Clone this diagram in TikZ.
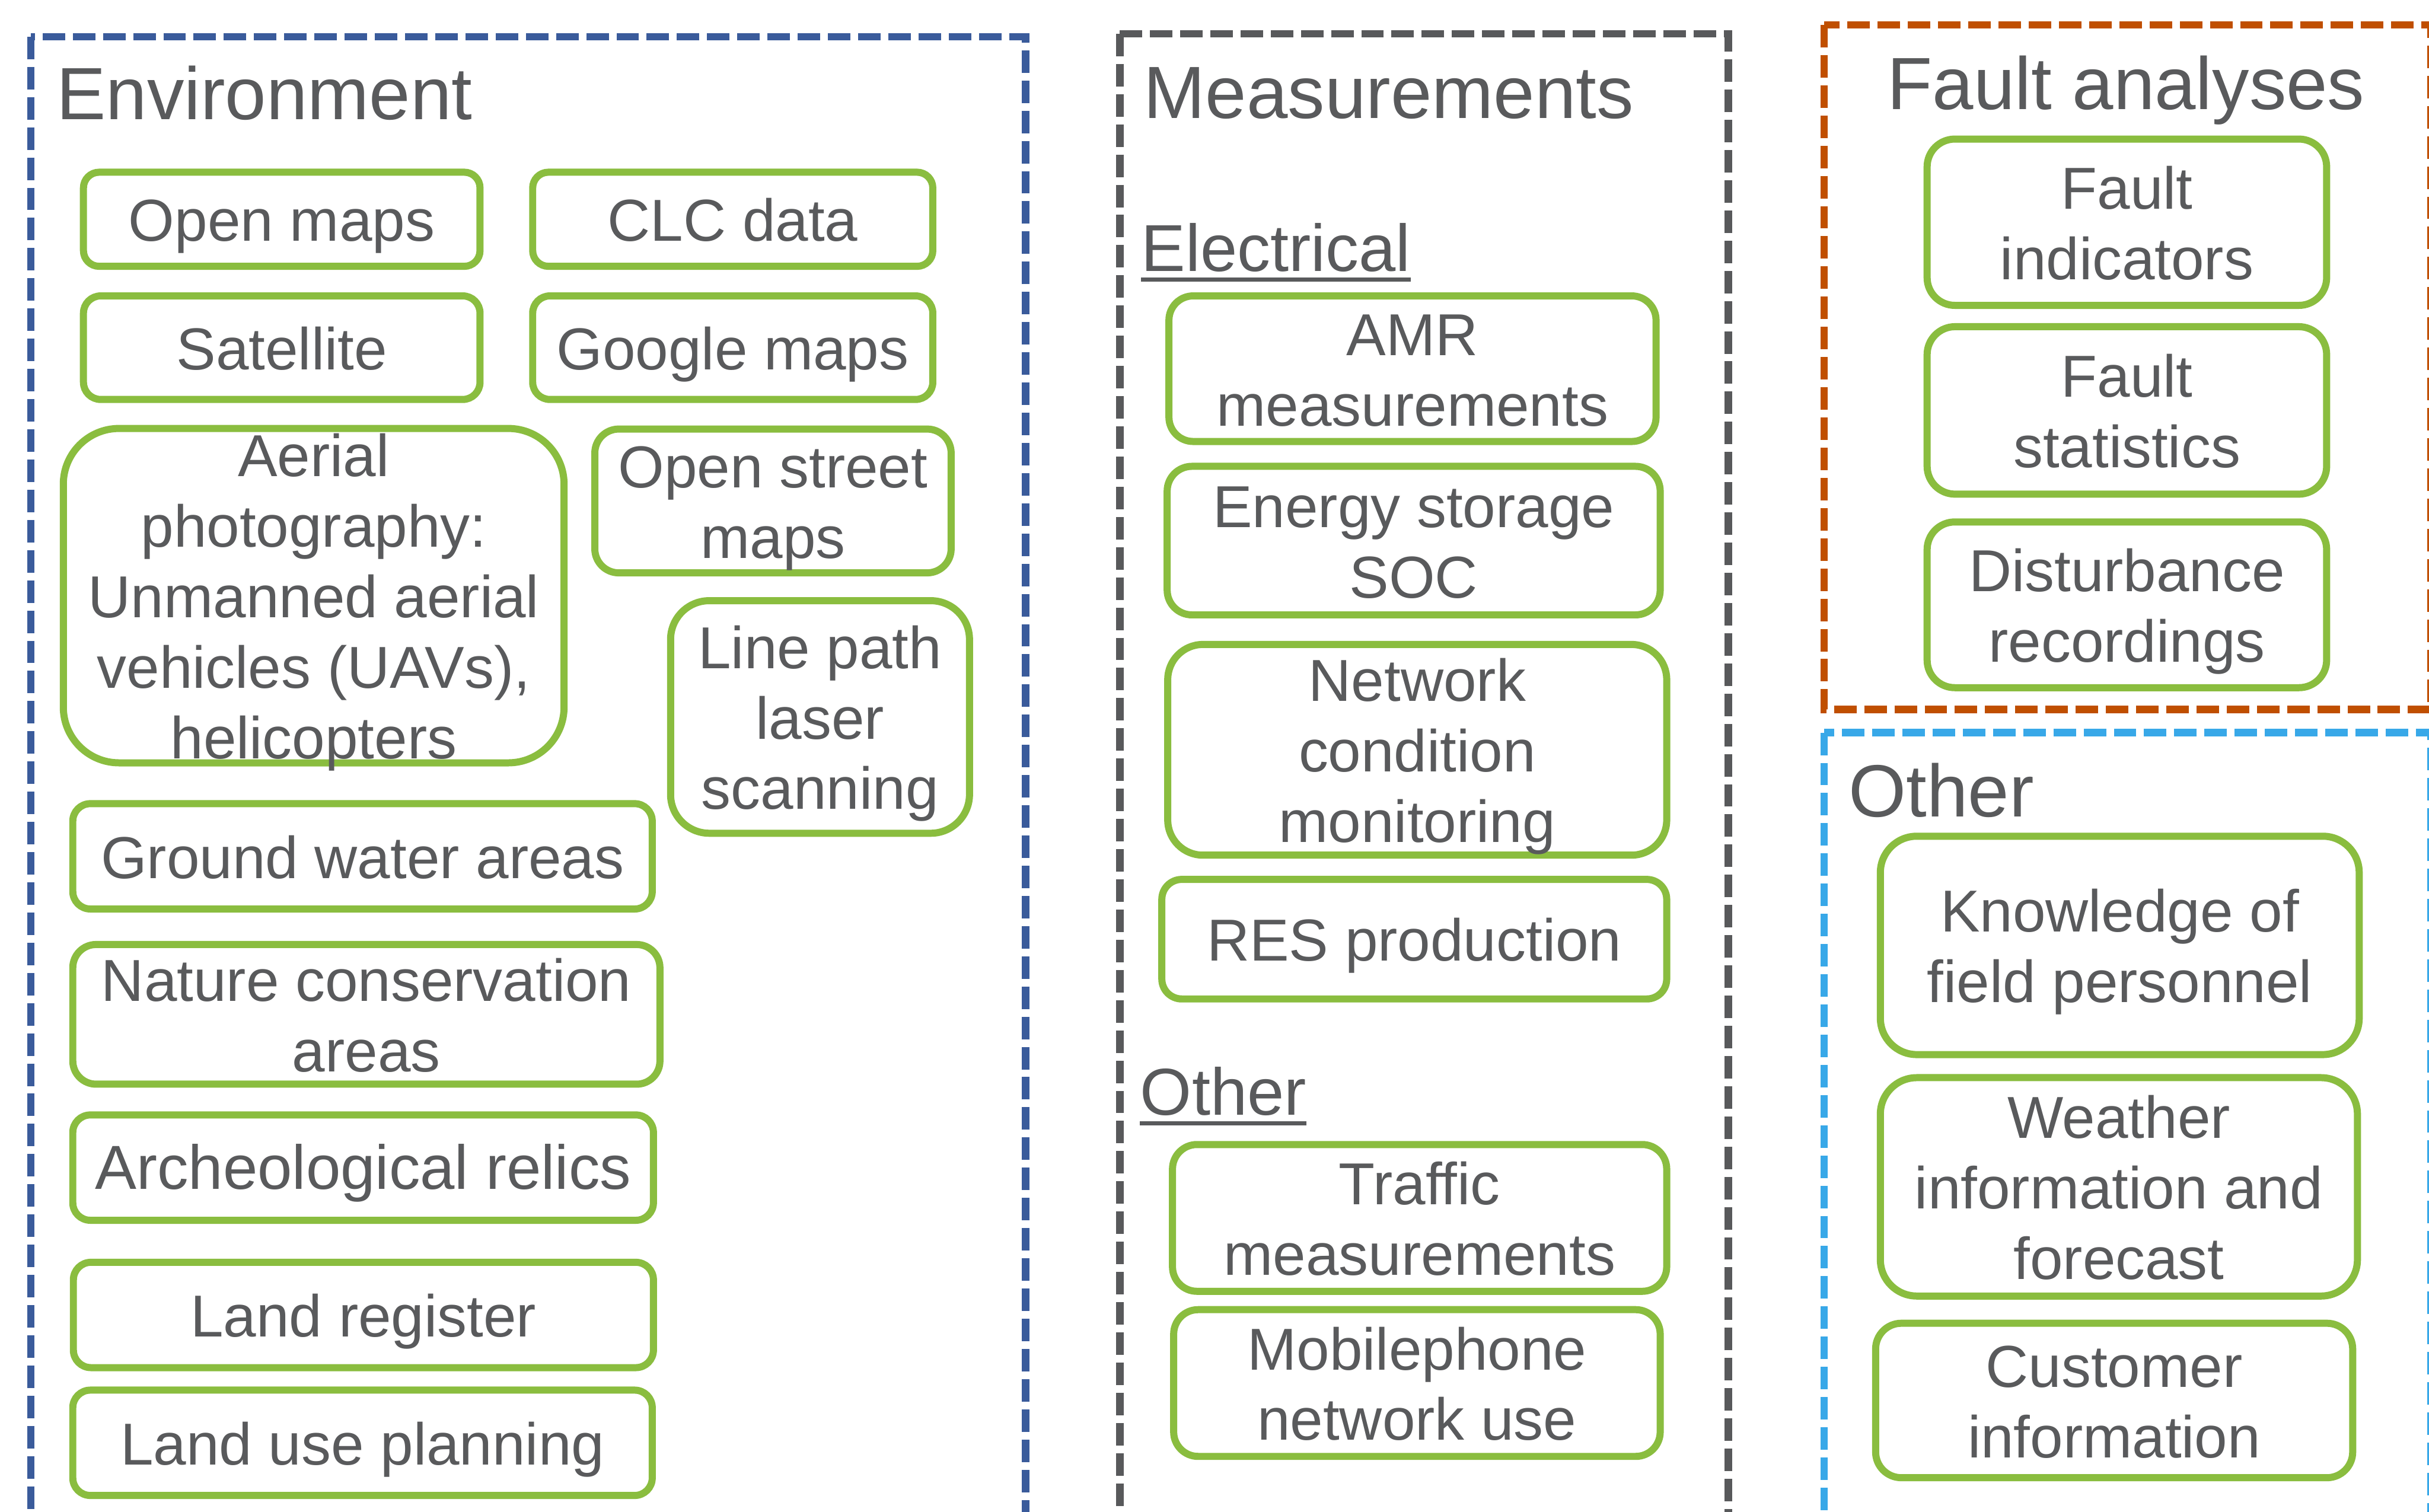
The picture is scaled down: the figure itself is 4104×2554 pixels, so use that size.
\documentclass[tikz,border=0pt]{standalone}
\usepackage{fontspec}
\setmainfont{Liberation Sans}
\definecolor{textgray}{RGB}{89,90,92}
\definecolor{boxgreen}{RGB}{138,189,63}
\definecolor{envblue}{RGB}{58,91,155}
\definecolor{measgray}{RGB}{88,89,91}
\definecolor{faultorange}{RGB}{192,79,0}
\definecolor{otherblue}{RGB}{56,168,232}
\newcommand{\bstrut}{\vrule height 0.95cm depth 0.21cm width 0pt}
\newcommand{\ibox}[6]{%
  \pgfmathsetmacro{\myw}{(#4-#2)*0.01}%
  \pgfmathsetmacro{\myh}{(#5-#3)*0.01}%
  \pgfmathsetmacro{\myr}{min(\myw,\myh)/6}%
  \node[gbox, minimum width=\myw cm, minimum height=\myh cm, rounded corners=\myr cm] (#1) at ({(#2+#4)/2},{(#3+#5)/2}) {};
  \node[btext] (#1-t) at (#1.center) {\bstrut #6\bstrut};
}
\tikzset{
  gbox/.style={draw=boxgreen, line width=0.12cm, inner sep=0pt, outer sep=0pt, fill=white},
  btext/.style={text=textgray, align=center, inner sep=0pt, font=\fontsize{28.45}{33.86}\selectfont},
  ttl/.style={text=textgray, inner sep=0pt, anchor=base west, font=\fontsize{35.57}{42}\selectfont},
  subttl/.style={text=textgray, inner sep=0pt, anchor=base west, font=\fontsize{31.87}{38}\selectfont},
  frame/.style={line width=0.125cm, dash pattern=on 0.38cm off 0.13cm},
  uline/.style={draw=textgray, line width=0.07cm},
}
\begin{document}
\begin{tikzpicture}[x=0.01cm, y=-0.01cm]
\useasboundingbox (0,0) rectangle (4104,2554);
\fill[white] (0,0) rectangle (4104,2554);

% frames
\draw[frame, envblue] (52,62) rectangle (1733,2620);
\draw[frame, measgray] (1892,57) rectangle (2920,2620);
\draw[frame, faultorange] (3082,42) rectangle (4107,1199);
\draw[frame, otherblue] (3082,1238) rectangle (4107,2620);

% titles
\node[ttl] (t-env) at (95,202) {Environment};
\node[ttl] (t-meas) at (1932,200) {Measurements};
\node[ttl] (t-fault) at (3188,185) {Fault analyses};
\node[ttl] (t-other) at (3123,1380) {Other};
\node[subttl] (s-elec) at (1928,458) {Electrical};
\node[subttl] (s-other) at (1926,1884) {Other};
\draw[uline] ([yshift=-0.14cm]s-elec.base west) -- ([yshift=-0.14cm]s-elec.base east);
\draw[uline] ([yshift=-0.14cm]s-other.base west) -- ([yshift=-0.14cm]s-other.base east);

% Environment
\ibox{openmaps}{141}{291}{811}{450}{Open maps}
\ibox{clc}{900}{291}{1576}{450}{CLC data}
\ibox{satellite}{141}{500}{811}{675}{Satellite}
\ibox{google}{900}{500}{1576}{675}{Google maps}
\ibox{aerial}{107}{724}{953}{1289}{Aerial\\photography:\\Unmanned aerial\\vehicles (UAVs),\\helicopters}
\ibox{osm}{1005}{725}{1607}{968}{Open street\\maps}
\ibox{laser}{1133}{1015}{1638}{1408}{Line path\\laser\\scanning}
\ibox{ground}{123}{1358}{1102}{1536}{Ground water areas}
\ibox{nature}{123}{1596}{1115}{1832}{Nature conservation\\areas}
\ibox{arch}{123}{1884}{1104}{2062}{\fontsize{29.9}{35.6}\selectfont Archeological relics}
\ibox{landreg}{124}{2133}{1104}{2311}{Land register}
\ibox{landuse}{123}{2349}{1102}{2527}{Land use planning}

% Measurements
\ibox{amr}{1975}{500}{2798}{746}{AMR\\measurements}
\ibox{energy}{1972}{788}{2805}{1039}{Energy storage\\SOC}
\ibox{network}{1973}{1089}{2816}{1445}{Network\\condition\\monitoring}
\ibox{res}{1963}{1486}{2816}{1688}{RES production}
\ibox{traffic}{1981}{1934}{2816}{2182}{Traffic\\measurements}
\ibox{mobile}{1983}{2213}{2805}{2461}{Mobilephone\\network use}

% Fault analyses
\ibox{findic}{3256}{235}{3931}{516}{Fault\\indicators}
\ibox{fstat}{3256}{552}{3931}{835}{Fault\\statistics}
\ibox{dist}{3256}{882}{3931}{1162}{Disturbance\\recordings}

% Other
\ibox{know}{3177}{1413}{3986}{1782}{Knowledge of\\field personnel}
\ibox{weather}{3177}{1821}{3983}{2190}{Weather\\information and\\forecast}
\ibox{cust}{3169}{2236}{3975}{2497}{Customer\\information}
\end{tikzpicture}
\end{document}
